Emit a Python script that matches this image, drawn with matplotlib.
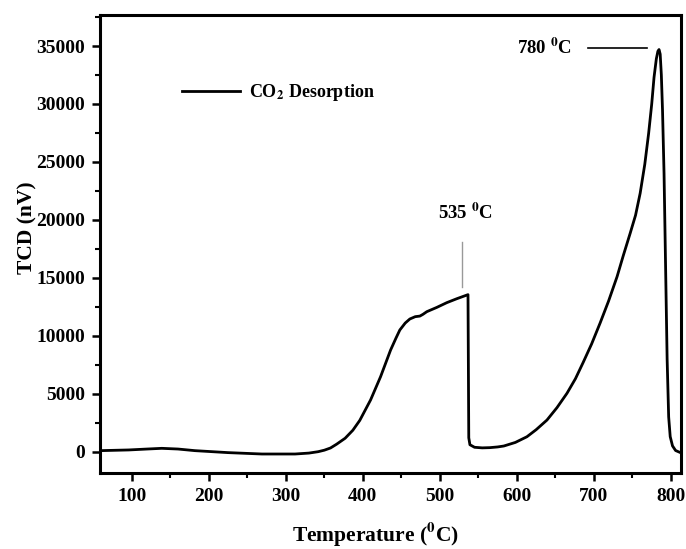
import matplotlib
matplotlib.use("Agg")
import matplotlib.pyplot as plt
from matplotlib.ticker import MultipleLocator

plt.rcParams["font.family"] = ["Liberation Serif", "DejaVu Serif"]
plt.rcParams["font.weight"] = "bold"
plt.rcParams["mathtext.fontset"] = "stix"
plt.rcParams["mathtext.default"] = "bf"

# ── data ──────────────────────────────────────────────────────────────────
temperature = [59, 96, 120, 139, 160, 182, 225, 269, 312, 330, 342, 350, 358,
               366, 377, 387, 396, 410, 423, 436, 443, 448, 455, 461, 468,
               474, 478, 483, 496, 509, 522, 536.5, 537.5, 539, 545, 555,
               565, 575, 583, 598, 613, 625, 639, 652, 665, 676, 686, 697,
               708, 719, 730, 738, 747, 754, 760, 766, 771, 775, 778, 781,
               783, 784.5, 786, 787.5, 789, 791, 793, 795, 797, 799, 802,
               806, 813]
tcd_signal = [90, 150, 230, 290, 230, 90, -80, -200, -200, -120, 0, 130, 320,
              650, 1160, 1850, 2700, 4460, 6470, 8770, 9800, 10500, 11100,
              11450, 11650, 11700, 11850, 12080, 12450, 12860, 13200, 13550,
              1200, 600, 380, 330, 350, 410, 490, 800, 1290, 1900, 2730, 3800,
              5040, 6300, 7700, 9300, 11100, 13000, 15100, 16900, 18840,
              20400, 22300, 24800, 27470, 30000, 32300, 33900, 34550, 34700,
              34300, 32500, 29500, 24000, 16000, 8000, 3000, 1300, 500, 100,
              -100]

x_ticks = [100, 200, 300, 400, 500, 600, 700, 800]
y_ticks = [0, 5000, 10000, 15000, 20000, 25000, 30000, 35000]

fig = plt.figure(figsize=(6.86, 5.49), dpi=100)
ax = fig.add_axes([0.1458, 0.1384, 0.8469, 0.8343])

ax.plot(temperature, tcd_signal, color="black", lw=2.0,
        label=r"CO$_2$ Desorption")

ax.set_xlim(58.8, 813)
ax.set_ylim(-1840, 37680)
ax.set_xticks(x_ticks)
ax.set_yticks(y_ticks)
ax.xaxis.set_minor_locator(MultipleLocator(50))
ax.yaxis.set_minor_locator(MultipleLocator(2500))
ax.tick_params(which="major", direction="out", length=6, width=1.8,
               labelsize=14, pad=5)
ax.tick_params(which="minor", direction="out", length=3.5, width=1.5)
for s in ax.spines.values():
    s.set_linewidth(2.2)

ax.set_xlabel(r"Temperature ($^0$C)", fontsize=15.5, fontweight="bold")
ax.set_ylabel("TCD (nV)", fontsize=15.5, fontweight="bold")
ax.xaxis.set_label_coords(0.475, -0.131)
ax.xaxis.label.set_va("center")
ax.yaxis.set_label_coords(-0.124, 0.535)
ax.yaxis.label.set_va("center")

# ── peak labels ───────────────────────────────────────────────────────────
ax.plot([528.5, 528.5], [14230, 18120], color="#999999", lw=1.0)
ax.text(533, 20570, r"535 $^0$C", ha="center", va="center",
        fontsize=13.5, fontweight="bold")
ax.text(635.6, 34820, r"780 $^0$C", ha="center", va="center",
        fontsize=13.5, fontweight="bold")
ax.plot([692.6, 769.2], [34830, 34830], color="black", lw=1.2)

ax.legend(loc="center left", bbox_to_anchor=(0.1406, 0.830), frameon=False,
          borderpad=0, borderaxespad=0, handlelength=3.25, handletextpad=0.5,
          prop={"size": 13, "weight": "bold"})

plt.savefig("out.png", dpi=100, facecolor="white")
plt.close()
